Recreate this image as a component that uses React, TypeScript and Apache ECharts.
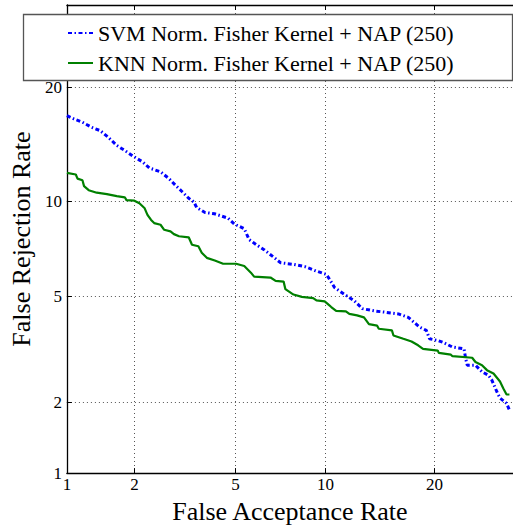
import React, { useEffect, useRef } from "react";
import * as echarts from "echarts";

// DET curve data (percent)
const svmFar = [1.0, 1.08, 1.18, 1.3, 1.42, 1.54, 1.68, 1.82, 2.0, 2.17, 2.31, 2.57, 2.78, 2.95, 3.14, 3.33, 3.48, 3.58, 3.85, 4.18, 4.69, 4.95, 5.37, 5.59, 5.98, 6.3, 6.8, 7.16, 7.91, 8.62, 9.37, 10.06, 10.29, 10.65, 11.02, 11.52, 12.18, 12.86, 13.87, 14.92, 16.18, 17.17, 18.38, 19.09, 19.45, 20.38, 20.94, 22.1, 23.51, 23.71, 23.91, 24.95, 25.8, 26.67, 27.1, 27.76, 28.2, 29.1, 29.5];
const svmFrr = [17.1, 16.77, 16.46, 15.98, 15.67, 15.08, 14.34, 13.91, 13.36, 12.95, 12.47, 12.17, 11.65, 11.16, 10.69, 10.23, 10.0, 9.6, 9.29, 9.21, 8.93, 8.57, 8.29, 7.67, 7.35, 7.13, 6.74, 6.47, 6.39, 6.28, 6.07, 5.92, 5.7, 5.35, 5.21, 5.03, 4.82, 4.52, 4.44, 4.39, 4.33, 4.21, 3.88, 3.78, 3.52, 3.47, 3.42, 3.28, 3.23, 2.97, 2.8, 2.8, 2.64, 2.56, 2.45, 2.21, 2.08, 1.98, 1.86];

const knnFar = [1.0, 1.1, 1.12, 1.18, 1.2, 1.26, 1.37, 1.52, 1.68, 1.82, 1.85, 2.0, 2.1, 2.21, 2.27, 2.35, 2.42, 2.57, 2.66, 2.82, 2.91, 3.05, 3.33, 3.43, 3.63, 3.74, 3.91, 4.19, 4.5, 5.02, 5.37, 5.67, 5.82, 6.63, 6.9, 7.34, 7.44, 7.91, 8.42, 9.15, 9.37, 9.94, 10.17, 10.41, 10.77, 11.52, 11.79, 12.42, 13.0, 13.43, 14.16, 14.31, 15.54, 15.69, 16.67, 17.51, 18.2, 18.73, 20.38, 20.49, 21.91, 22.1, 24.53, 24.95, 25.8, 26.45, 27.32, 28.2, 28.66, 29.1, 29.5];
const knnFrr = [12.09, 11.96, 11.65, 11.52, 11.09, 10.8, 10.62, 10.52, 10.38, 10.3, 10.11, 10.07, 9.89, 9.56, 9.14, 8.82, 8.63, 8.53, 8.23, 8.14, 7.98, 7.86, 7.8, 7.39, 7.31, 6.97, 6.71, 6.58, 6.42, 6.42, 6.31, 6.0, 5.82, 5.78, 5.63, 5.6, 5.28, 5.06, 4.97, 4.92, 4.83, 4.79, 4.69, 4.58, 4.44, 4.42, 4.33, 4.28, 4.21, 3.98, 3.93, 3.83, 3.78, 3.62, 3.52, 3.44, 3.33, 3.23, 3.18, 3.12, 3.07, 3.03, 2.99, 2.88, 2.8, 2.68, 2.6, 2.42, 2.27, 2.15, 2.15];

const tickPercents = [1, 2, 5, 10, 20];
const axisRange = [1, 30];
const seriesNames = [
  "SVM Norm. Fisher Kernel + NAP (250)",
  "KNN Norm. Fisher Kernel + NAP (250)",
];

// inverse normal CDF (Acklam)
function probit(p: number): number {
  const a = [-3.969683028665376e1, 2.209460984245205e2, -2.759285104469687e2, 1.38357751867269e2, -3.066479806614716e1, 2.506628277459239];
  const b = [-5.447609879822406e1, 1.615858368580409e2, -1.556989798598866e2, 6.680131188771972e1, -1.328068155288572e1];
  const c = [-7.784894002430293e-3, -3.223964580411365e-1, -2.400758277161838, -2.549732539343734, 4.374664141464968, 2.938163982698783];
  const d = [7.784695709041462e-3, 3.224671290700398e-1, 2.445134137142996, 3.754408661907416];
  const pl = 0.02425;
  if (p < pl) {
    const q = Math.sqrt(-2 * Math.log(p));
    return (((((c[0] * q + c[1]) * q + c[2]) * q + c[3]) * q + c[4]) * q + c[5]) / ((((d[0] * q + d[1]) * q + d[2]) * q + d[3]) * q + 1);
  }
  if (p <= 1 - pl) {
    const q = p - 0.5;
    const r = q * q;
    return ((((((a[0] * r + a[1]) * r + a[2]) * r + a[3]) * r + a[4]) * r + a[5]) * q) / (((((b[0] * r + b[1]) * r + b[2]) * r + b[3]) * r + b[4]) * r + 1);
  }
  const q = Math.sqrt(-2 * Math.log(1 - p));
  return -(((((c[0] * q + c[1]) * q + c[2]) * q + c[3]) * q + c[4]) * q + c[5]) / ((((d[0] * q + d[1]) * q + d[2]) * q + d[3]) * q + 1);
}

const pr = (v: number) => probit(v / 100);
const tickVals = tickPercents.map(pr);
const labelFor = (v: number) => {
  let best = 0;
  tickVals.forEach((t, i) => {
    if (Math.abs(t - v) < Math.abs(tickVals[best] - v)) best = i;
  });
  return String(tickPercents[best]);
};

const FONT = "Liberation Serif";

export default function App() {
  const ref = useRef<HTMLDivElement>(null);
  useEffect(() => {
    if (!ref.current) return;
    const chart = echarts.init(ref.current, null, { renderer: "svg" });
    const minV = pr(axisRange[0]);
    const maxV = pr(axisRange[1]);
    const gridLine = { show: true, lineStyle: { color: "#555", width: 1, type: [1, 3] as any } };
    const axisLine = { show: true, onZero: false, lineStyle: { color: "#000", width: 1.3 } };
    const tick = { show: true, inside: true, length: 5, customValues: tickVals, lineStyle: { color: "#000", width: 1 } };
    chart.setOption({
      animation: false,
      backgroundColor: "#fff",
      grid: { left: 63, top: 5, right: -4, bottom: 52, containLabel: false },
      legend: {
        orient: "vertical",
        left: 67,
        top: 22,
        itemWidth: 25,
        itemHeight: 10,
        itemGap: 8,
        padding: 0,
        itemStyle: { opacity: 0 },
        textStyle: { fontFamily: FONT, fontSize: 22, color: "#000" },
        data: seriesNames,
      },
      graphic: [
        {
          type: "rect",
          z: 3,
          shape: { x: 23.5, y: 14.5, width: 489, height: 66 },
          style: { fill: "#fff", stroke: "#555", lineWidth: 1.3 },
        },
      ],
      xAxis: [
        {
          type: "value",
          min: minV,
          max: maxV,
          axisLine,
          axisTick: tick,
          splitLine: gridLine,
          axisLabel: {
            customValues: tickVals,
            formatter: (v: number) => labelFor(v),
            fontFamily: FONT,
            fontSize: 17,
            color: "#000",
            margin: 3,
          },
          name: "False Acceptance Rate",
          nameLocation: "middle",
          nameGap: 22,
          nameTextStyle: { fontFamily: FONT, fontSize: 26, color: "#000" },
        },
        {
          type: "value",
          position: "top",
          min: minV,
          max: maxV,
          axisLine,
          axisTick: tick,
          splitLine: { show: false },
          axisLabel: { show: false },
        },
      ],
      yAxis: [
        {
          type: "value",
          min: minV,
          max: maxV,
          axisLine,
          axisTick: tick,
          splitLine: gridLine,
          axisLabel: {
            customValues: tickVals,
            formatter: (v: number) => labelFor(v),
            fontFamily: FONT,
            fontSize: 17,
            color: "#000",
            margin: 5,
          },
          name: "False Rejection Rate",
          nameLocation: "middle",
          nameGap: 29,
          nameTextStyle: { fontFamily: FONT, fontSize: 26, color: "#000" },
        },
      ],
      series: [
        {
          name: seriesNames[0],
          type: "line",
          symbol: "none",
          showSymbol: false,
          data: svmFar.map((x, i) => [pr(x), pr(svmFrr[i])]),
          lineStyle: { color: "#0000ff", width: 3, type: [4, 2.5, 1.5, 2.5] as any },
          itemStyle: { color: "#0000ff" },
          z: 2,
        },
        {
          name: seriesNames[1],
          type: "line",
          symbol: "none",
          showSymbol: false,
          data: knnFar.map((x, i) => [pr(x), pr(knnFrr[i])]),
          lineStyle: { color: "#008000", width: 2.2 },
          itemStyle: { color: "#008000" },
          z: 2,
        },
      ],
    });
    return () => chart.dispose();
  }, []);
  return (
    <div
      ref={ref}
      style={{ position: "absolute", left: 0, top: 0, width: 513, height: 529 }}
    />
  );
}
